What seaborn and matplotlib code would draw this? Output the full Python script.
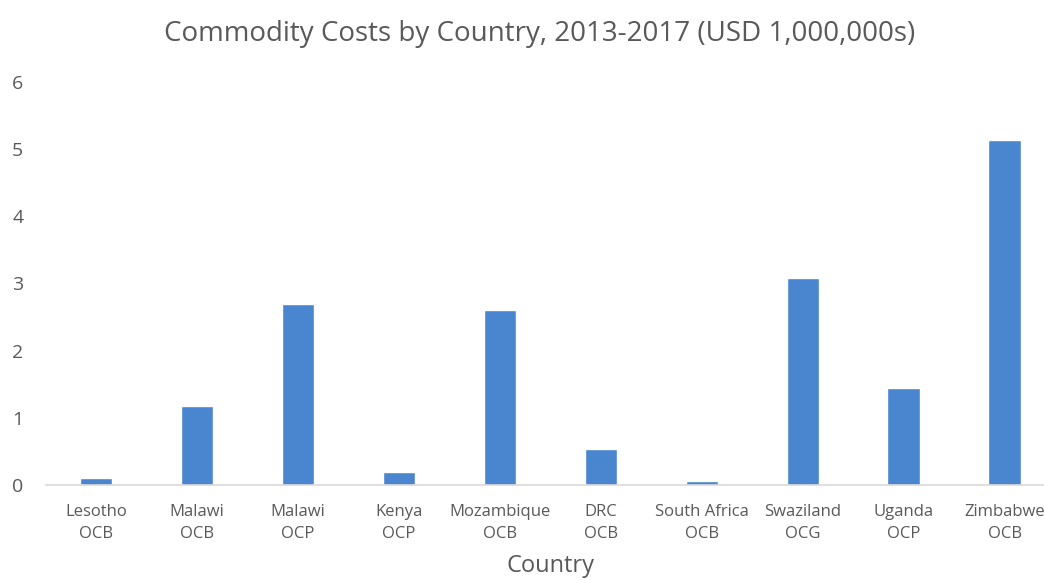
import matplotlib
matplotlib.use('Agg')
import matplotlib.pyplot as plt
import seaborn as sns
import pandas as pd

# data
countries = ['Lesotho\nOCB', 'Malawi\nOCB', 'Malawi\nOCP', 'Kenya\nOCP', 'Mozambique\nOCB',
             'DRC\nOCB', 'South Africa\nOCB', 'Swaziland\nOCG', 'Uganda\nOCP', 'Zimbabwe\nOCB']
costs = [0.10, 1.17, 2.69, 0.19, 2.61, 0.53, 0.06, 3.08, 1.44, 5.14]

df = pd.DataFrame({'Country': countries, 'Cost': costs})

sns.set_theme(style='white')
plt.rcParams['font.family'] = ['Open Sans', 'DejaVu Sans']
text_col = '#595959'

fig = plt.figure(figsize=(10.44, 5.8), dpi=100)
ax = fig.add_axes([0.0436, 0.164, 0.967, 0.695])

sns.barplot(data=df, x='Country', y='Cost', color='#4a86cf', width=0.32,
            saturation=1, ax=ax)

ax.set_ylim(0, 6)
ax.set_yticks(range(0, 7))
ax.set_xlim(-0.5, len(countries) - 0.5)
for s in ['top', 'right', 'left']:
    ax.spines[s].set_visible(False)
ax.spines['bottom'].set_color('#d9d9d9')
ax.spines['bottom'].set_linewidth(1.2)
ax.tick_params(axis='y', length=0, labelsize=14, labelcolor=text_col, pad=16)
ax.tick_params(axis='x', length=0, labelsize=12, labelcolor=text_col, pad=14)
for lbl in ax.get_xticklabels():
    lbl.set_linespacing(1.45)
    lbl.set_horizontalalignment('center')

ax.set_ylabel('')
ax.set_xlabel('Country', fontsize=17, color=text_col, labelpad=9)
fig.suptitle('Commodity Costs by Country, 2013-2017 (USD 1,000,000s)',
             fontsize=20, color=text_col, x=0.517, y=0.965)

fig.savefig('out.png', dpi=100)
